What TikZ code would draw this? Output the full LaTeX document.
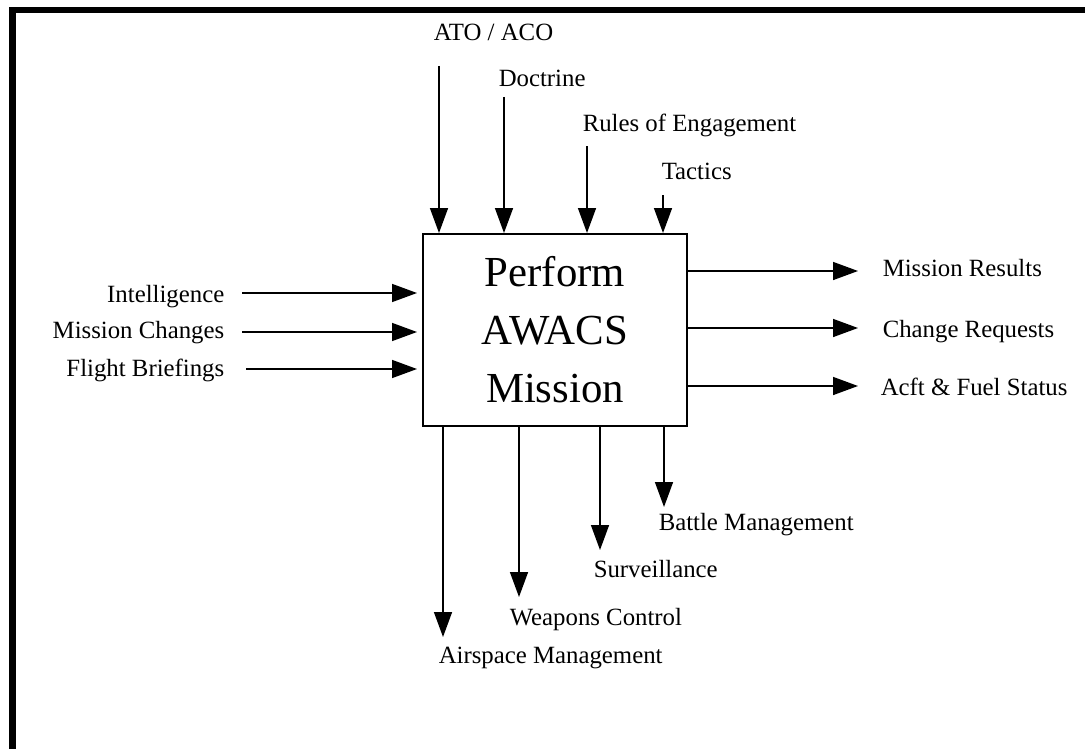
\documentclass[tikz,border=0pt]{standalone}
\usepackage{fontspec}
\setmainfont{Liberation Serif}
\usetikzlibrary{arrows.meta}

\begin{document}
\begin{tikzpicture}[x=0.5pt,y=-0.5pt,
	every path/.style={line width=0.75pt},
	arr/.style={-{Triangle[length=12.5pt,width=9pt]}},
	lbl/.style={inner sep=0pt,font=\fontsize{12.4}{14}\selectfont}]
\useasboundingbox (0,0) rectangle (1085,749);
\fill (9,7) rectangle (1085,13);
\fill (9,7) rectangle (16,749);
\node[draw,line width=1pt,minimum width=132pt,minimum height=96pt,align=center,
	font=\fontsize{21.4}{29}\selectfont] (task) at (555,330) {Perform\\AWACS\\Mission};
\node[lbl,anchor=base west] (c1) at (433,41) {ATO / ACO};
\node[lbl,anchor=base west] (c2) at (498,87) {Doctrine};
\node[lbl,anchor=base west] (c3) at (582,132) {Rules of Engagement};
\node[lbl,anchor=base west] (c4) at (661,179) {Tactics};
\node[lbl,anchor=base east] (i1) at (225,302) {Intelligence};
\node[lbl,anchor=base east] (i2) at (225,338) {Mission Changes};
\node[lbl,anchor=base east] (i3) at (225,376) {Flight Briefings};
\node[lbl,anchor=base west] (o1) at (882,276) {Mission Results};
\node[lbl,anchor=base west] (o2) at (882,337) {Change Requests};
\node[lbl,anchor=base west] (o3) at (880,395) {Acft \& Fuel Status};
\node[lbl,anchor=base west] (m1) at (438,663) {Airspace Management};
\node[lbl,anchor=base west] (m2) at (509,625) {Weapons Control};
\node[lbl,anchor=base west] (m3) at (593,577) {Surveillance};
\node[lbl,anchor=base west] (m4) at (658,530) {Battle Management};
\coordinate (c1s) at (439,66);
\coordinate (c2s) at (504,97);
\coordinate (c3s) at (587,146);
\coordinate (c4s) at (663,195);
\coordinate (i1s) at (242,293);
\coordinate (i2s) at (242,332);
\coordinate (i3s) at (246,369);
\coordinate (o1e) at (858,271);
\coordinate (o2e) at (858,328);
\coordinate (o3e) at (858,386);
\coordinate (m1e) at (443,637);
\coordinate (m2e) at (519,597);
\coordinate (m3e) at (600,550);
\coordinate (m4e) at (664,507);
\draw[arr] (c1s) to (c1s |- task.north);
\draw[arr] (c2s) to (c2s |- task.north);
\draw[arr] (c3s) to (c3s |- task.north);
\draw[arr] (c4s) to (c4s |- task.north);
\draw[arr,shorten >=2.5pt] (i1s) to (i1s -| task.west);
\draw[arr,shorten >=2.5pt] (i2s) to (i2s -| task.west);
\draw[arr,shorten >=2.5pt] (i3s) to (i3s -| task.west);
\draw[arr] (o1e -| task.east) to (o1e);
\draw[arr] (o2e -| task.east) to (o2e);
\draw[arr] (o3e -| task.east) to (o3e);
\draw[arr] (m1e |- task.south) to (m1e);
\draw[arr] (m2e |- task.south) to (m2e);
\draw[arr] (m3e |- task.south) to (m3e);
\draw[arr] (m4e |- task.south) to (m4e);
\end{tikzpicture}
\end{document}
